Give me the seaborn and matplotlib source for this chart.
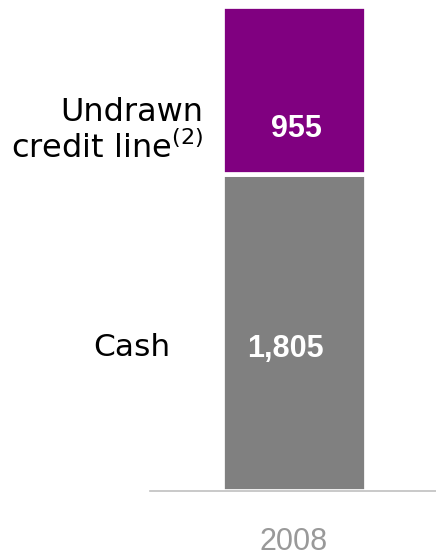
import pandas as pd
import matplotlib
matplotlib.use("Agg")
import matplotlib.pyplot as plt
import seaborn as sns

# data
years = ["2008"]
cash = [1805]
credit_line = [955]
value_labels_cash = ["1,805"]
value_labels_credit = ["955"]

df = pd.DataFrame({"year": years, "cash": cash, "credit": credit_line})

sns.set_style("white")
plt.rcParams["font.family"] = ["DejaVu Sans"]

fig = plt.figure(figsize=(4.36, 5.56), dpi=100)
ax = fig.add_axes([150 / 436, 65 / 556, 286 / 436, 483 / 556])

# stacked bars, white edge gives the gap between segments
sns.barplot(data=df, x="year", y="cash", color="#808080", saturation=1,
            width=0.502, edgecolor="white", linewidth=3.4, ax=ax)
sns.barplot(data=df, x="year", y="credit", bottom=df["cash"], color="#800080",
            saturation=1, width=0.502, edgecolor="white", linewidth=3.4, ax=ax)

ax.set_xlim(-0.5035, 0.4965)
ax.set_ylim(0, sum(cash) + sum(credit_line) - 10)

# values inside bars
ax.text(-0.031, 810, value_labels_cash[0], ha="center", va="center",
        color="white", fontsize=22, fontweight="bold", family="Liberation Sans")
ax.text(0.007, 2063, value_labels_credit[0], ha="center", va="center",
        color="white", fontsize=22, fontweight="bold", family="Liberation Sans")

# segment names on the left
ax.text(-0.434, 815, "Cash", ha="right", va="center", fontsize=22.5, color="black")
ax.text(-0.316, 2050, "Undrawn\ncredit line$^{(2)}$", ha="right", va="center",
        fontsize=23, color="black", linespacing=1.15, multialignment="right")

sns.despine(ax=ax, left=True)
ax.spines["bottom"].set_color("#c0c0c0")
ax.spines["bottom"].set_linewidth(1.2)
ax.set_yticks([])
ax.set_xlabel("")
ax.set_ylabel("")
ax.tick_params(axis="x", length=0, pad=26, labelsize=22, labelcolor="#999999")
for t in ax.get_xticklabels():
    t.set_family("Liberation Sans")

fig.savefig("out.png", dpi=100)
